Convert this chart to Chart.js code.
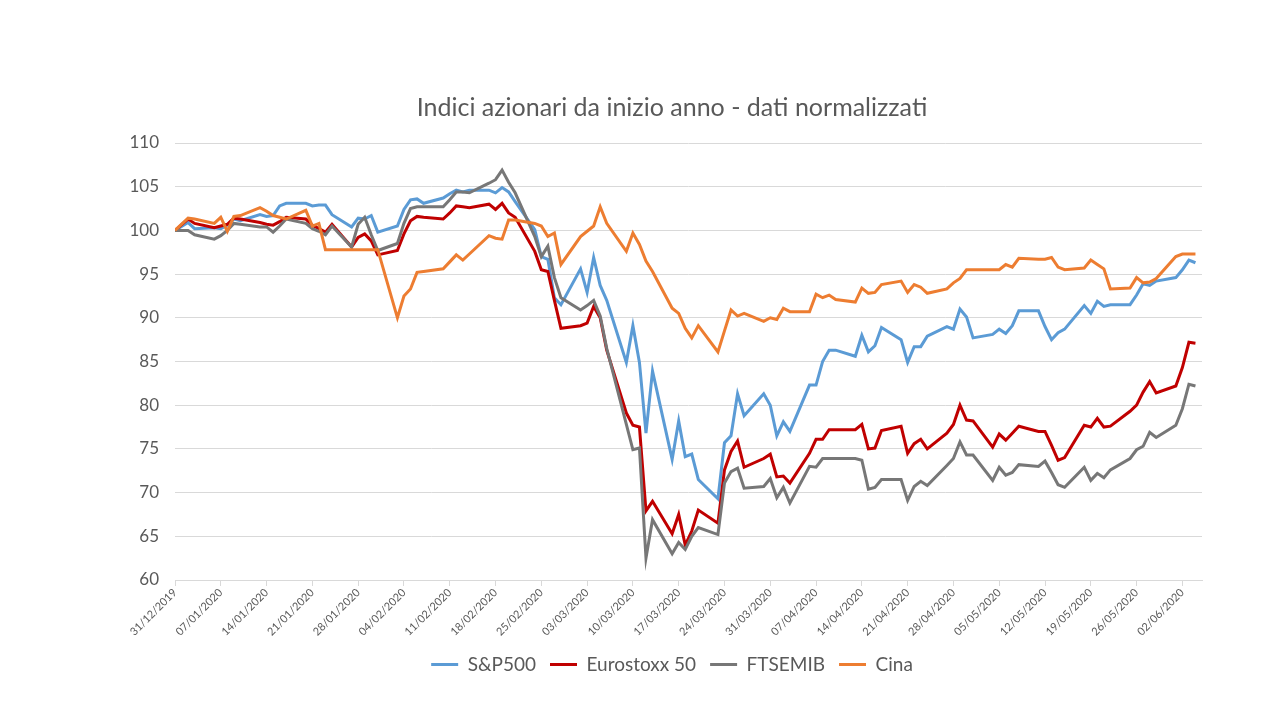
<!DOCTYPE html>
<html>
<head>
<meta charset="utf-8">
<title>Indici azionari</title>
<script src="https://cdn.jsdelivr.net/npm/chart.js@4/dist/chart.umd.min.js"></script>
<style>
  html, body { margin: 0; padding: 0; background: #fff; }
  #wrap { width: 1280px; height: 720px; }
</style>
</head>
<body>
<div id="wrap"><canvas id="chart"></canvas></div>
<script>
// giorni dal 31/12/2019 (solo giorni lavorativi presenti nei dati)
const days = [0, 2, 3,
  6, 7, 8, 9, 10, 13, 14, 15, 16, 17, 20, 21, 22, 23, 24, 27, 28, 29, 30, 31,
  34, 35, 36, 37, 38, 41, 42, 43, 44, 45, 48, 49, 50, 51, 52, 55, 56, 57, 58, 59,
  62, 63, 64, 65, 66, 69, 70, 71, 72, 73, 76, 77, 78, 79, 80, 83, 84, 85, 86, 87,
  90, 91, 92, 93, 94, 97, 98, 99, 100, 101, 104, 105, 106, 107, 108, 111, 112, 113, 114, 115,
  118, 119, 120, 121, 122, 125, 126, 127, 128, 129, 132, 133, 134, 135, 136,
  139, 140, 141, 142, 143, 146, 147, 148, 149, 150, 153, 154, 155, 156];

const sp500 = [100, 100.9, 100.2,
  100.3, 100.2, 100.6, 101.3, 101.1,
  101.8, 101.6, 101.7, 102.8, 103.1,
  103.1, 102.8, 102.9, 102.9, 101.8,
  100.4, 101.4, 101.3, 101.7, 99.8,
  100.5, 102.4, 103.5, 103.6, 103.1,
  103.7, 104.2, 104.6, 104.4, 104.6,
  104.6, 104.3, 104.9, 104.4, 103.3,
  100.1, 97.0, 96.7, 92.3, 91.5,
  95.6, 92.9, 96.9, 93.7, 92.0,
  84.9, 89.1, 84.9, 76.8, 83.9,
  73.8, 78.2, 74.1, 74.4, 71.5,
  69.3, 75.7, 76.5, 81.3, 78.8,
  81.3, 80.0, 76.5, 78.1, 77.0,
  82.3, 82.3, 85.0, 86.3, 86.3,
  85.6, 88.0, 86.1, 86.8, 88.9,
  87.5, 84.9, 86.7, 86.7, 87.9,
  89.0, 88.7, 91.0, 90.1, 87.7,
  88.1, 88.7, 88.2, 89.1, 90.8,
  90.8, 89.0, 87.5, 88.3, 88.7,
  91.4, 90.5, 91.9, 91.3, 91.5,
  91.5, 92.6, 93.9, 93.7, 94.2,
  94.6, 95.5, 96.6, 96.3];

const eurostoxx = [100, 101.3, 100.8,
  100.3, 100.5, 100.7, 101.4, 101.3,
  100.9, 100.7, 100.6, 101.0, 101.5,
  101.3, 100.6, 100.2, 99.8, 100.7,
  98.1, 99.2, 99.6, 98.8, 97.2,
  97.7, 99.6, 101.1, 101.6, 101.5,
  101.3, 102.0, 102.8, 102.7, 102.6,
  103.0, 102.4, 103.1, 102.0, 101.5,
  97.6, 95.5, 95.3, 92.0, 88.8,
  89.1, 89.4, 91.3, 90.0, 86.3,
  79.1, 77.7, 77.5, 67.9, 69.0,
  65.3, 67.5, 64.0, 65.6, 68.0,
  66.5, 72.6, 74.7, 75.9, 72.9,
  73.9, 74.4, 71.8, 71.9, 71.1,
  74.5, 76.1, 76.1, 77.2, 77.2,
  77.2, 77.8, 75.0, 75.1, 77.1,
  77.6, 74.5, 75.6, 76.1, 75.0,
  76.8, 77.8, 80.0, 78.3, 78.2,
  75.2, 76.7, 76.0, 76.8, 77.6,
  77.0, 77.0, 75.4, 73.7, 74.0,
  77.7, 77.5, 78.5, 77.5, 77.6,
  79.3, 80.0, 81.5, 82.7, 81.4,
  82.2, 84.3, 87.2, 87.1];

const ftsemib = [100, 100.0, 99.5,
  99.0, 99.4, 100.0, 100.8, 100.7,
  100.4, 100.4, 99.8, 100.5, 101.3,
  100.8, 100.2, 99.9, 99.5, 100.5,
  98.1, 100.7, 101.5, 99.5, 97.7,
  98.5, 100.8, 102.5, 102.7, 102.7,
  102.7, 103.5, 104.4, 104.4, 104.3,
  105.4, 105.8, 106.9, 105.5, 104.3,
  99.3, 97.0, 98.2, 94.6, 92.3,
  90.9, 91.4, 92.0, 90.2, 86.5,
  77.8, 74.9, 75.1, 62.5, 66.9,
  63.0, 64.3, 63.5, 65.0, 66.0,
  65.2, 71.1, 72.4, 72.8, 70.5,
  70.7, 71.6, 69.4, 70.6, 68.8,
  73.0, 72.9, 73.9, 73.9, 73.9,
  73.9, 73.7, 70.4, 70.6, 71.5,
  71.5, 69.1, 70.7, 71.3, 70.8,
  73.1, 73.9, 75.8, 74.3, 74.3,
  71.4, 72.9, 72.0, 72.3, 73.2,
  73.0, 73.6, 72.3, 70.9, 70.6,
  72.9, 71.4, 72.2, 71.7, 72.6,
  73.9, 74.9, 75.3, 76.9, 76.3,
  77.7, 79.6, 82.4, 82.2];

const cina = [100, 101.4, 101.3,
  100.8, 101.5, 99.9, 101.6, 101.7,
  102.6, 102.2, 101.7, 101.5, 101.3,
  102.3, 100.5, 100.8, 97.8, 97.8,
  97.8, 97.8, 97.8, 97.8, 97.8,
  90.0, 92.5, 93.3, 95.2, 95.3,
  95.6, 96.4, 97.2, 96.6, 97.3,
  99.4, 99.1, 99.0, 101.2, 101.2,
  100.8, 100.5, 99.3, 99.7, 96.1,
  99.3, 99.9, 100.5, 102.7, 100.8,
  97.6, 99.7, 98.4, 96.5, 95.3,
  91.1, 90.5, 88.8, 87.7, 89.1,
  86.1, 88.5, 90.9, 90.2, 90.5,
  89.6, 90.0, 89.8, 91.1, 90.7,
  90.7, 92.7, 92.3, 92.6, 92.1,
  91.8, 93.4, 92.8, 92.9, 93.8,
  94.2, 92.9, 93.8, 93.5, 92.8,
  93.3, 94.0, 94.5, 95.5, 95.5,
  95.5, 95.5, 96.1, 95.8, 96.8,
  96.7, 96.7, 96.9, 95.8, 95.5,
  95.7, 96.6, 96.1, 95.6, 93.3,
  93.4, 94.6, 94.0, 94.1, 94.5,
  97.0, 97.3, 97.3, 97.3];

const yTicks = { min: 60, max: 110, step: 5 };
const xTicks = { min: 0, max: 157, step: 7 };

const textColor = '#595959';
const gridColor = '#d9d9d9';

function points(values) {
  return days.map((d, i) => ({ x: d, y: values[i] }));
}

// etichetta data da offset in giorni
function dayLabel(offset) {
  const dt = new Date(Date.UTC(2019, 11, 31 + offset));
  const dd = String(dt.getUTCDate()).padStart(2, '0');
  const mm = String(dt.getUTCMonth() + 1).padStart(2, '0');
  return dd + '/' + mm + '/' + dt.getUTCFullYear();
}

function serie(label, values, color, order) {
  return {
    label: label,
    data: points(values),
    borderColor: color,
    backgroundColor: color,
    borderWidth: 3,
    pointRadius: 0,
    tension: 0,
    fill: false,
    order: order
  };
}

new Chart(document.getElementById('chart'), {
  type: 'line',
  data: {
    datasets: [
      serie('S&P500', sp500, '#5b9bd5', 4),
      serie('Eurostoxx 50', eurostoxx, '#c00000', 3),
      serie('FTSEMIB', ftsemib, '#777777', 2),
      serie('Cina', cina, '#ed7d31', 1)
    ]
  },
  options: {
    responsive: true,
    maintainAspectRatio: false,
    animation: false,
    layout: { padding: { left: 64, right: 0, top: 0, bottom: 36 } },
    plugins: {
      title: {
        display: true,
        text: 'Indici azionari da inizio anno - dati normalizzati',
        color: textColor,
        font: { family: 'Lato', size: 25, weight: 'normal' },
        padding: { top: 93, bottom: 20 }
      },
      legend: {
        position: 'bottom',
        labels: {
          color: textColor,
          font: { family: 'Lato', size: 19 },
          usePointStyle: true,
          pointStyle: 'line',
          pointStyleWidth: 27,
          boxWidth: 27,
          padding: 14,
          sort: (a, b) => a.datasetIndex - b.datasetIndex
        }
      },
      tooltip: { enabled: false }
    },
    scales: {
      x: {
        type: 'linear',
        min: xTicks.min,
        max: xTicks.max,
        afterFit: (scale) => { scale.height = 61; },
        grid: { drawOnChartArea: false, color: gridColor, tickLength: 6 },
        border: { color: gridColor },
        ticks: {
          stepSize: xTicks.step,
          includeBounds: false,
          autoSkip: false,
          maxRotation: 45,
          minRotation: 45,
          color: textColor,
          font: { family: 'Lato', size: 11 },
          padding: 0,
          callback: (v) => dayLabel(v)
        }
      },
      y: {
        min: yTicks.min,
        max: yTicks.max,
        afterFit: (scale) => { scale.width = 111; },
        grid: { color: gridColor, drawTicks: false },
        border: { display: false },
        ticks: {
          stepSize: yTicks.step,
          color: textColor,
          font: { family: 'Lato', size: 17 },
          padding: 16
        }
      },
      // asse vuoto a destra, solo per lasciare il margine
      yRight: {
        position: 'right',
        afterFit: (scale) => { scale.width = 78; },
        grid: { display: false },
        border: { display: false },
        ticks: { display: false }
      }
    }
  }
});
</script>
</body>
</html>
